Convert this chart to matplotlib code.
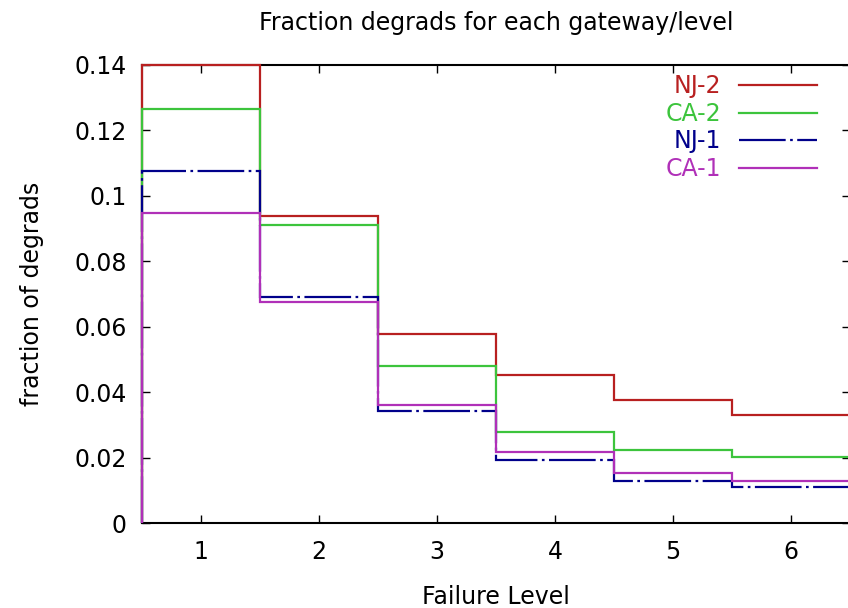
import numpy as np
import matplotlib
matplotlib.use("Agg")
import matplotlib.pyplot as plt
from matplotlib.ticker import FuncFormatter

plt.rcParams["font.family"] = ["DejaVu Sans"]

levels = [1, 2, 3, 4, 5, 6]
nj2 = [0.1400, 0.0939, 0.0578, 0.0453, 0.0376, 0.0330]
ca2 = [0.1266, 0.0911, 0.0480, 0.0278, 0.0223, 0.0202]
nj1 = [0.1076, 0.0691, 0.0343, 0.0193, 0.0128, 0.0110]
ca1 = [0.0948, 0.0676, 0.0361, 0.0217, 0.0153, 0.0128]

edges = np.arange(len(levels) + 1) + 0.5

fig = plt.figure(figsize=(8.48, 6.08), dpi=100)
ax = fig.add_axes([0.1675, 0.1398, 0.8347, 0.7533])

fs = 17
ax.stairs(nj2, edges, baseline=0, color="#b82020", lw=1.6, label="NJ-2", zorder=3, clip_on=False)
ax.stairs(ca2, edges, baseline=0, color="#3cc43c", lw=1.6, label="CA-2", zorder=3, clip_on=False)
ax.stairs(nj1, edges, baseline=0, color="#00008b", lw=1.6, label="NJ-1",
          linestyle=(0, (21, 2, 1.2, 2)), zorder=3, clip_on=False)
ax.stairs(ca1, edges, baseline=0, color="#b030b8", lw=1.6, label="CA-1", zorder=3, clip_on=False)

ax.set_xlim(0.5, 6.5)
ax.set_ylim(0, 0.14)
ax.set_xticks(levels)
ax.set_yticks(np.arange(0, 0.141, 0.02))
ax.yaxis.set_major_formatter(FuncFormatter(lambda v, p: "%g" % round(v, 2)))
ax.tick_params(direction="in", length=6, width=1, top=True, right=True,
               labelsize=fs)
ax.tick_params(axis="x", pad=12)
ax.tick_params(axis="y", pad=11)
for s in ax.spines.values():
    s.set_linewidth(1.5)

ax.set_title("Fraction degrads for each gateway/level", fontsize=fs, y=1.0, pad=25)
ax.set_xlabel("Failure Level", fontsize=fs, labelpad=15)
ax.set_ylabel("fraction of degrads", fontsize=fs, labelpad=22)

leg = ax.legend(loc="upper right", bbox_to_anchor=(0.984, 1.026), frameon=False,
                markerfirst=False, fontsize=fs, handlelength=3.3,
                handletextpad=0.76, labelspacing=0.15)
for t, h in zip(leg.get_texts(), leg.legend_handles):
    t.set_color(h.get_color())

fig.savefig("out.png", dpi=100)
